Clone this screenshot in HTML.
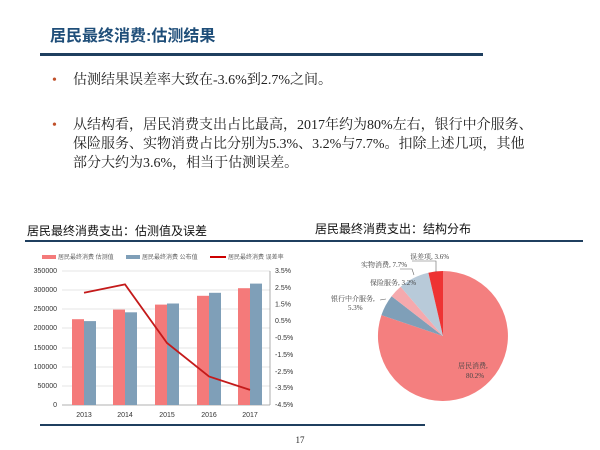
<!DOCTYPE html>
<html><head><meta charset="utf-8"><style>
body{margin:0;background:#fff;}
svg{display:block;font-family:"Liberation Serif","Noto Serif CJK SC",serif;}
.s{font-family:"Liberation Sans","Noto Sans CJK SC",sans-serif;}
</style></head><body>
<svg width="600" height="450" viewBox="0 0 600 450">
<rect width="600" height="450" fill="#fff"/>
<text x="50" y="41" font-size="16" font-weight="bold" fill="#1f4e79" class="s">居民最终消费:估测结果</text>
<rect x="40" y="53" width="443" height="3" fill="#1f3f5f"/>
<text x="52" y="84" font-size="14" fill="#c0502a">•</text>
<text x="73" y="84" font-size="14" fill="#222">估测结果误差率大致在-3.6%到2.7%之间。</text>
<text x="52" y="129" font-size="14" fill="#c0502a">•</text>
<text x="73" y="129" font-size="14" fill="#222">从结构看，居民消费支出占比最高，2017年约为80%左右，银行中介服务、</text>
<text x="73" y="148" font-size="14" fill="#222">保险服务、实物消费占比分别为5.3%、3.2%与7.7%。扣除上述几项，其他</text>
<text x="73" y="167" font-size="14" fill="#222">部分大约为3.6%，相当于估测误差。</text>

<text x="27" y="235" font-size="12" fill="#111" class="s">居民最终消费支出：估测值及误差</text>
<rect x="25" y="240" width="283" height="2" fill="#1f3f5f"/>
<g class="s" font-size="6" fill="#666">
<rect x="42" y="255" width="14" height="4" fill="#f47a7a"/><text x="58" y="259">居民最终消费 估测值</text>
<rect x="126" y="255" width="14" height="4" fill="#7f9fb8"/><text x="142" y="259">居民最终消费 公布值</text>
<rect x="210" y="256" width="16" height="2" fill="#c00"/><text x="228" y="259">居民最终消费 误差率</text>
</g>
<g stroke="#ddd" stroke-width="0.7">
<line x1="62" y1="271" x2="270" y2="271"/><line x1="62" y1="290" x2="270" y2="290"/><line x1="62" y1="309" x2="270" y2="309"/><line x1="62" y1="328" x2="270" y2="328"/><line x1="62" y1="348" x2="270" y2="348"/><line x1="62" y1="367" x2="270" y2="367"/><line x1="62" y1="386" x2="270" y2="386"/>
</g>
<line x1="62" y1="405" x2="270" y2="405" stroke="#999" stroke-width="0.8"/>
<line x1="270" y1="271" x2="270" y2="405" stroke="#999" stroke-width="0.8"/>
<g class="s" font-size="7" fill="#333" text-anchor="end">
<text x="57" y="273">350000</text><text x="57" y="292">300000</text><text x="57" y="311">250000</text><text x="57" y="330">200000</text><text x="57" y="350">150000</text><text x="57" y="369">100000</text><text x="57" y="388">50000</text><text x="57" y="407">0</text>
</g>
<g class="s" font-size="7" fill="#333">
<text x="275" y="273">3.5%</text><text x="275" y="290">2.5%</text><text x="275" y="306.5">1.5%</text><text x="275" y="323">0.5%</text><text x="275" y="340">-0.5%</text><text x="275" y="357">-1.5%</text><text x="275" y="374">-2.5%</text><text x="275" y="390">-3.5%</text><text x="275" y="407">-4.5%</text>
</g>
<g class="s" font-size="7" fill="#333" text-anchor="middle">
<text x="84" y="417">2013</text><text x="125" y="417">2014</text><text x="167" y="417">2015</text><text x="209" y="417">2016</text><text x="250" y="417">2017</text>
</g>
<g fill="#f47a7a">
<rect x="72" y="319.2" width="12" height="85.8"/><rect x="113" y="309.6" width="12" height="95.4"/><rect x="155" y="304.6" width="12" height="100.4"/><rect x="197" y="295.8" width="12" height="109.2"/><rect x="238" y="288.2" width="12" height="116.8"/>
</g>
<g fill="#7f9fb8">
<rect x="84" y="321.1" width="12" height="83.9"/><rect x="125" y="312.3" width="12" height="92.7"/><rect x="167" y="303.5" width="12" height="101.5"/><rect x="209" y="292.8" width="12" height="112.2"/><rect x="250" y="283.6" width="12" height="121.4"/>
</g>
<polyline points="84,292.8 125,284.4 167,343 209,376.5 250,389.9" fill="none" stroke="#c41a1a" stroke-width="1.8"/>

<text x="315" y="233" font-size="12" fill="#111" class="s">居民最终消费支出：结构分布</text>
<rect x="300" y="240" width="283" height="2" fill="#1f3f5f"/>
<path d="M443,336 L443,271 A65,65 0 1 1 381.4,315.1 Z" fill="#f47f7f"/>
<path d="M443,336 L381.4,315.1 A65,65 0 0 1 391.6,296.2 Z" fill="#7f9fb8"/>
<path d="M443,336 L391.6,296.2 A65,65 0 0 1 400.6,286.7 Z" fill="#f5a9ad"/>
<path d="M443,336 L400.6,286.7 A65,65 0 0 1 428.4,272.7 Z" fill="#b8cad9"/>
<path d="M443,336 L428.4,272.7 A65,65 0 0 1 443,271 Z" fill="#ee3333"/>
<g stroke="#666" stroke-width="0.6" fill="none">
<polyline points="412,261 436,261 436,272"/>
<polyline points="400,269 412,269 414,275"/>
<line x1="380" y1="300" x2="386" y2="299"/>
</g>
<g font-size="7" fill="#444">
<text x="410" y="259">误差项, 3.6%</text>
<text x="361" y="267">实物消费, 7.7%</text>
<text x="370" y="285">保险服务, 3.2%</text>
<text x="331" y="301">银行中介服务,</text>
<text x="348" y="310">5.3%</text>
<text x="458" y="368">居民消费,</text>
<text x="466" y="378">80.2%</text>
</g>
<rect x="40" y="424" width="385" height="2" fill="#1f3f5f"/>
<text x="300" y="443" font-size="9" fill="#222" text-anchor="middle">17</text>
</svg>
</body></html>
